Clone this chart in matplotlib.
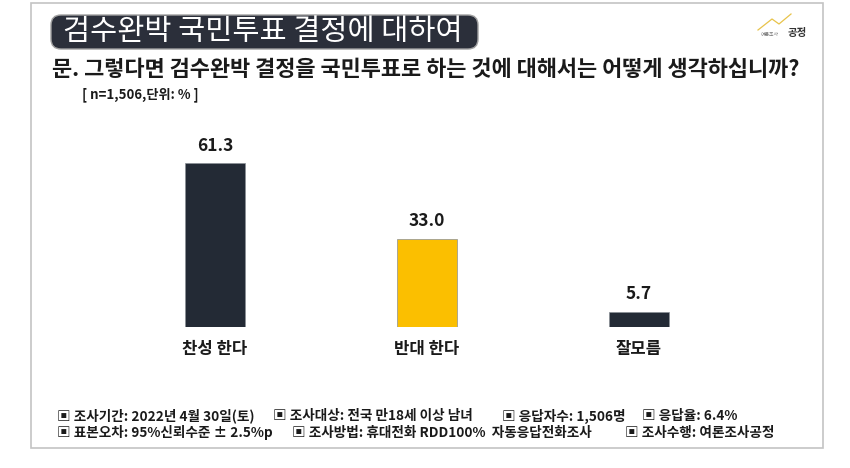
import matplotlib.pyplot as plt
from matplotlib.patches import FancyBboxPatch, Rectangle

plt.rcParams['font.family'] = ['Noto Sans CJK KR', 'DejaVu Sans']

# 데이터
categories = ['찬성 한다', '반대 한다', '잘모름']
values = [61.3, 33.0, 5.7]
bar_colors = ['#232a35', '#fbbf00', '#232a35']

title = '검수완박 국민투표 결정에 대하여'
question = '문. 그렇다면 검수완박 결정을 국민투표로 하는 것에 대해서는 어떻게 생각하십니까?'
sample_note = '[ n=1,506,단위: % ]'
footer_line1 = ['▣ 조사기간: 2022년 4월 30일(토)', '▣ 조사대상: 전국 만18세 이상 남녀',
                '▣ 응답자수: 1,506명', '▣ 응답율: 6.4%']
footer_line2 = ['▣ 표본오차: 95%신뢰수준 ± 2.5%p', '▣ 조사방법: 휴대전화 RDD100%  자동응답전화조사',
                '▣ 조사수행: 여론조사공정']

W, H = 850, 468
fig = plt.figure(figsize=(W / 100, H / 100), dpi=100)
fig.patch.set_facecolor('white')

# 픽셀 좌표로 그리는 배경 축
bg = fig.add_axes([0, 0, 1, 1], zorder=0)
bg.set_xlim(0, W)
bg.set_ylim(H, 0)
bg.axis('off')

# 바깥 테두리
bg.add_patch(Rectangle((31, 3), 823 - 31, 448 - 3, facecolor='none',
                       edgecolor='#c4c4c4', linewidth=1.2))

# 제목 박스
bg.add_patch(FancyBboxPatch((51, 15), 478 - 51, 49 - 15,
                            boxstyle='round,pad=0,rounding_size=10',
                            facecolor='#2b2f3a', edgecolor='#a0a0a0', linewidth=1.0))
bg.text(63, 32, title, color='white', fontsize=21.2, fontweight='medium',
        va='center', ha='left')

# 질문
bg.text(52, 69, question, color='#1a1a1a', fontsize=15.8, fontweight='bold',
        va='center', ha='left')
bg.text(82, 95, sample_note, color='#1a1a1a', fontsize=9.5, fontweight='bold',
        va='center', ha='left')

# 로고
bg.plot([758, 772, 779, 791], [30, 19, 24, 14], color='#e8c34a', lw=0.9)
bg.text(761, 34, '여론조사', fontsize=3.5, color='#777777', va='center', ha='left')
bg.text(788, 33, '공정', fontsize=7.5, color='#333333', fontweight='bold',
        va='center', ha='left')

# 막대 그래프
left, right, bottom_px, top_px = 109, 745, 327, 140
ax = fig.add_axes([left / W, 1 - bottom_px / H, (right - left) / W, (bottom_px - top_px) / H],
                  zorder=1)
ax.patch.set_alpha(0)
x = range(len(categories))
ax.bar(x, values, width=60 / 212, color=bar_colors, edgecolor='#8a8f96', linewidth=0.5)
ax.set_xlim(-0.5, len(categories) - 0.5)
ax.set_ylim(0, (bottom_px - top_px) / 2.675)
ax.axis('off')

for xi, v in zip(x, values):
    ax.annotate(f'{v:.1f}', (xi, v), xytext=(0, 12.5), textcoords='offset points',
                ha='center', va='center', fontsize=12.5, fontweight='bold', color='#1a1a1a')
    ax.annotate(categories[xi], (xi, 0), xytext=(0, -15.5), textcoords='offset points',
                ha='center', va='center', fontsize=12, fontweight='bold', color='#1a1a1a',
                annotation_clip=False)

# 하단 조사 개요
for txt, xp in zip(footer_line1, [57, 273, 502, 642]):
    bg.text(xp, 416, txt, fontsize=9.8, fontweight='bold', color='#1a1a1a',
            va='center', ha='left')
for txt, xp in zip(footer_line2, [57, 292, 625]):
    bg.text(xp, 433, txt, fontsize=9.8, fontweight='bold', color='#1a1a1a',
            va='center', ha='left')

fig.savefig('out.png', dpi=100, facecolor='white')
